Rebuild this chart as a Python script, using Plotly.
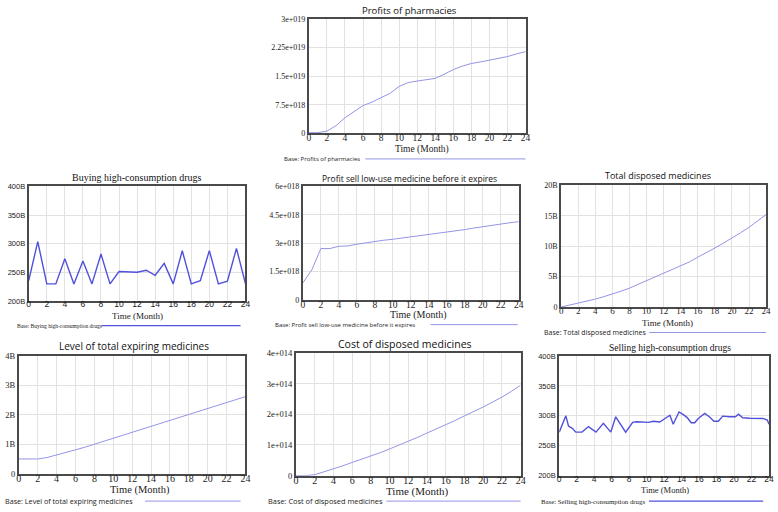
import plotly.graph_objects as go

W, H = 778, 512

# ---------------- data ----------------
months = list(range(25))
month_ticks = list(range(0, 25, 2))

# Profits of pharmacies (x 1e19)
profits_pharmacies_e19 = [0.02, 0.02, 0.06, 0.20, 0.41, 0.58, 0.73, 0.82, 0.93, 1.05, 1.23, 1.33, 1.37,
                          1.40, 1.44, 1.55, 1.67, 1.76, 1.83, 1.87, 1.91, 1.95, 2.01, 2.08, 2.14]
profits_ticks = [0, 7.5e18, 1.5e19, 2.25e19, 3e19]
profits_ticktext = ["0", "7.5e+018", "1.5e+019", "2.25e+019", "3e+019"]

# Buying high-consumption drugs (billions)
buying_B = [235.7, 303.7, 230, 230, 274, 230, 270, 230, 282, 230, 251.5, 251.5, 250.4,
            253.8, 245, 265.7, 230, 287.8, 230, 235.7, 288, 230, 234.6, 292, 230]
hc_ticks = [200e9, 250e9, 300e9, 350e9, 400e9]
hc_ticktext = ["200B", "250B", "300B", "350B", "400B"]

# Profit sell low-use medicine before it expires (x 1e18)
profit_low_use_e18 = [0.91, 1.60, 2.72, 2.72, 2.84, 2.86, 2.95, 3.03, 3.10, 3.16, 3.21, 3.27, 3.33,
                      3.39, 3.45, 3.52, 3.59, 3.65, 3.72, 3.80, 3.88, 3.95, 4.02, 4.08, 4.14]
low_use_ticks = [0, 1.5e18, 3e18, 4.5e18, 6e18]
low_use_ticktext = ["0", "1.5e+018", "3e+018", "4.5e+018", "6e+018"]

# Total disposed medicines (billions)
total_disposed_B = [0, 0.3, 0.65, 0.95, 1.3, 1.7, 2.1, 2.6, 3.1, 3.7, 4.3, 4.9, 5.5,
                    6.1, 6.7, 7.4, 8.2, 8.9, 9.7, 10.5, 11.3, 12.2, 13.1, 14.1, 15.2]
disposed_ticks = [0, 5e9, 10e9, 15e9, 20e9]
disposed_ticktext = ["0", "5B", "10B", "15B", "20B"]

# Level of total expiring medicines (billions)
level_expiring_B = [0.5, 0.5, 0.5, 0.55, 0.63, 0.72, 0.81, 0.9, 1.0, 1.1, 1.2, 1.31, 1.42,
                    1.51, 1.61, 1.71, 1.81, 1.9, 2.0, 2.11, 2.22, 2.32, 2.42, 2.52, 2.62]
level_ticks = [0, 1e9, 2e9, 3e9, 4e9]
level_ticktext = ["0", "1B", "2B", "3B", "4B"]

# Cost of disposed medicines (x 1e14)
cost_disposed_e14 = [0, 0, 0.03, 0.12, 0.22, 0.32, 0.43, 0.53, 0.64, 0.75, 0.87, 0.99, 1.12,
                     1.25, 1.39, 1.52, 1.65, 1.80, 1.95, 2.09, 2.24, 2.40, 2.56, 2.75, 2.95]
cost_ticks = [0, 1e14, 2e14, 3e14, 4e14]
cost_ticktext = ["0", "1e+014", "2e+014", "3e+014", "4e+014"]

# Selling high-consumption drugs (billions), irregular time points
selling_t = [0, 0.76, 1.06, 1.5, 1.9, 2.6, 3.35, 4.2, 5.05, 5.9, 6.46, 7.6, 8.4, 8.86, 10.2,
             10.76, 11.5, 12.66, 13.04, 13.7, 14.2, 14.64, 15.1, 15.5, 15.9, 16.65, 17.2,
             17.7, 18.2, 18.7, 19.5, 20.15, 20.5, 21, 21.8, 23.3, 23.8, 24]
selling_B = [272.7, 300, 283, 279, 272.7, 272.7, 282, 272.7, 287.4, 272.7, 298.4, 272.7, 289,
             290, 289, 291, 289.6, 301, 285.8, 306.5, 302, 297, 288.5, 288.5, 295.6, 304, 298,
             291, 291, 299.5, 298.4, 298.4, 302.7, 296.7, 296, 295.6, 293, 286]

# ---------------- styling ----------------
SANS = "Open Sans"
SERIF = "Liberation Serif"
LIGHT = "#9494e6"
DARK = "#5050dc"
AXIS = "#4a4a4a"
GRID = "#e2e2e2"

panels = [
    dict(title="Profits of pharmacies", tfont=SANS, tsize=9.5, tx=411, ty=6,
         box=(309, 528, 14, 131), x=months, y=[v * 1e19 for v in profits_pharmacies_e19],
         color=LIGHT, lw=1, yt=profits_ticks, ytt=profits_ticktext, yfont=SERIF, ysize=8,
         xfont=SERIF, xsize=9.5, timex=423, timey=147, timesize=9.5,
         legend="Base: Profits of pharmacies", lfont=SANS, lsize=6, lx=282, ly=157, lend=528),
    dict(title="Buying high-consumption drugs", tfont=SERIF, tsize=10, tx=135, ty=176,
         box=(26, 245, 185, 302), x=months, y=[v * 1e9 for v in buying_B],
         color=DARK, lw=1.4, yt=hc_ticks, ytt=hc_ticktext, yfont="Liberation Sans", ysize=7.5,
         xfont="Liberation Sans", xsize=8.5, timex=136, timey=317, timesize=9,
         legend="Base: Buying high-consumption drugs", lfont=SERIF, lsize=5.5, lx=12, ly=327, lend=240),
    dict(title="Profit sell low-use medicine before it expires", tfont=SANS, tsize=8.5, tx=411, ty=177,
         box=(303, 521, 185, 301), x=months, y=[v * 1e18 for v in profit_low_use_e18],
         color=LIGHT, lw=1, yt=low_use_ticks, ytt=low_use_ticktext, yfont=SERIF, ysize=8,
         xfont=SERIF, xsize=9.5, timex=420, timey=316, timesize=10,
         legend="Base: Profit sell low-use medicine before it expires", lfont=SANS, lsize=6,
         lx=273, ly=326, lend=520),
    dict(title="Total disposed medicines", tfont=SANS, tsize=9, tx=662, ty=174,
         box=(564, 771, 184, 308), x=months, y=[v * 1e9 for v in total_disposed_B],
         color=LIGHT, lw=1, yt=disposed_ticks, ytt=disposed_ticktext, yfont=SERIF, ysize=8,
         xfont=SERIF, xsize=9, timex=671, timey=324, timesize=9,
         legend="Base: Total disposed medicines", lfont=SANS, lsize=7, lx=545, ly=334, lend=771),
    dict(title="Level of total expiring medicines", tfont=SANS, tsize=10, tx=132, ty=348,
         box=(16, 245, 358, 478), x=months, y=[v * 1e9 for v in level_expiring_B],
         color=LIGHT, lw=1, yt=level_ticks, ytt=level_ticktext, yfont=SERIF, ysize=8.5,
         xfont=SERIF, xsize=10, timex=138, timey=495, timesize=10.5,
         legend="Base: Level of total expiring medicines", lfont=SANS, lsize=7.2, lx=0, ly=506, lend=240),
    dict(title="Cost of disposed medicines", tfont=SANS, tsize=10.5, tx=406, ty=346,
         box=(296, 523, 355, 480), x=months, y=[v * 1e14 for v in cost_disposed_e14],
         color=LIGHT, lw=1, yt=cost_ticks, ytt=cost_ticktext, yfont=SERIF, ysize=8.5,
         xfont=SERIF, xsize=10, timex=419, timey=496, timesize=11,
         legend="Base: Cost of disposed medicines", lfont=SANS, lsize=7.4, lx=266, ly=506, lend=523),
    dict(title="Selling high-consumption drugs", tfont=SERIF, tsize=9.5, tx=674, ty=350,
         box=(562, 774, 358, 480), x=selling_t, y=[v * 1e9 for v in selling_B],
         color=DARK, lw=1.4, yt=hc_ticks, ytt=hc_ticktext, yfont="Liberation Sans", ysize=7.5,
         xfont="Liberation Sans", xsize=8.5, timex=669, timey=495, timesize=8.5,
         legend="Base: Selling high-consumption drugs", lfont=SERIF, lsize=6.8, lx=542, ly=506, lend=768),
]

fig = go.Figure()
annotations = []
shapes = []
layout = dict(width=W, height=H, margin=dict(l=0, r=0, t=0, b=0),
              paper_bgcolor="white", plot_bgcolor="white", showlegend=False)

for i, p in enumerate(panels, start=1):
    sfx = "" if i == 1 else str(i)
    x0, x1, y0, y1 = p["box"]
    fig.add_trace(go.Scatter(x=p["x"], y=p["y"], mode="lines",
                             line=dict(color=p["color"], width=p["lw"]),
                             xaxis="x" + sfx, yaxis="y" + sfx, hoverinfo="skip"))
    layout["xaxis" + sfx] = dict(
        domain=[x0 / W, x1 / W], anchor="y" + sfx, range=[0, 24],
        tickvals=month_ticks, ticktext=[str(m) for m in month_ticks],
        showgrid=True, gridcolor=GRID, gridwidth=1,
        showline=True, mirror=True, linecolor=AXIS, linewidth=2,
        ticks="", zeroline=False, ticklabelstandoff=-6,
        tickfont=dict(family=p["xfont"], size=p["xsize"], color="#222"))
    layout["yaxis" + sfx] = dict(
        domain=[1 - y1 / H, 1 - y0 / H], anchor="x" + sfx,
        range=[p["yt"][0], p["yt"][-1]], tickvals=p["yt"], ticktext=p["ytt"],
        showgrid=True, gridcolor=GRID, gridwidth=1,
        showline=True, mirror=True, linecolor=AXIS, linewidth=2,
        ticks="", zeroline=False,
        tickfont=dict(family=p["yfont"], size=p["ysize"], color="#222"))
    annotations.append(dict(text=p["title"], x=p["tx"] / W, y=1 - p["ty"] / H,
                            xref="paper", yref="paper", showarrow=False,
                            xanchor="center", yanchor="middle",
                            font=dict(family=p["tfont"], size=p["tsize"], color="#111")))
    annotations.append(dict(text="Time (Month)", x=p["timex"] / W, y=1 - p["timey"] / H,
                            xref="paper", yref="paper", showarrow=False,
                            xanchor="center", yanchor="middle",
                            font=dict(family=SERIF, size=p["timesize"], color="#222")))
    annotations.append(dict(text=p["legend"], x=p["lx"] / W, y=1 - p["ly"] / H,
                            xref="paper", yref="paper", showarrow=False,
                            xanchor="left", yanchor="middle",
                            font=dict(family=p["lfont"], size=p["lsize"], color="#222")))
    approx_w = len(p["legend"]) * p["lsize"] * (0.5 if p["lfont"] == SANS else 0.44)
    shapes.append(dict(type="line", xref="paper", yref="paper",
                       x0=(p["lx"] + approx_w + 3) / W, x1=p["lend"] / W,
                       y0=1 - p["ly"] / H, y1=1 - p["ly"] / H,
                       line=dict(color=p["color"], width=p["lw"])))

layout["annotations"] = annotations
layout["shapes"] = shapes
fig.update_layout(**layout)
fig.write_html("out.html", config={"displayModeBar": False},
               post_script="document.body.style.margin='0px';document.body.style.overflow='hidden';")
